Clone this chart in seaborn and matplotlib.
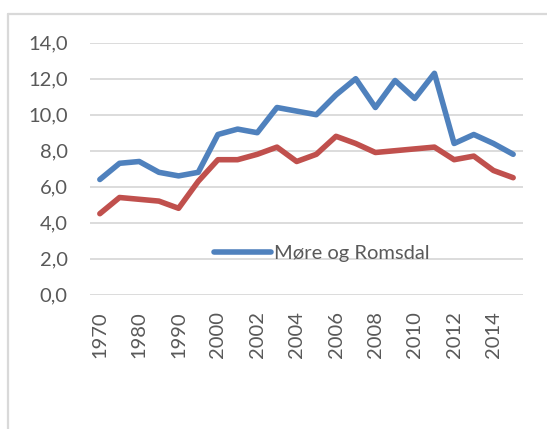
import numpy as np
import pandas as pd
import matplotlib
matplotlib.use('Agg')
import matplotlib.pyplot as plt
from matplotlib.ticker import FuncFormatter, MultipleLocator
from matplotlib.lines import Line2D
import seaborn as sns

# data
years = ['1970', '1975', '1980', '1985', '1990', '1995', '2000', '2001', '2002', '2003', '2004',
         '2005', '2006', '2007', '2008', '2009', '2010', '2011', '2012', '2013', '2014', '2015']
more_romsdal = [6.4, 7.3, 7.4, 6.8, 6.6, 6.8, 8.9, 9.2, 9.0, 10.4, 10.2,
                10.0, 11.1, 12.0, 10.4, 11.9, 10.9, 12.3, 8.4, 8.9, 8.4, 7.8]
norge = [4.5, 5.4, 5.3, 5.2, 4.8, 6.3, 7.5, 7.5, 7.8, 8.2, 7.4,
         7.8, 8.8, 8.4, 7.9, 8.0, 8.1, 8.2, 7.5, 7.7, 6.9, 6.5]
tick_years = years[::2]

blue = '#4F81BD'
red = '#C0504D'
text_col = '#595959'

sns.set_style('white')
plt.rcParams['font.family'] = ['Lato', 'DejaVu Sans']

fig = plt.figure(figsize=(5.47, 4.29), dpi=100)
ax = fig.add_axes([90 / 547, 1 - 294.7 / 429, 433 / 547, 252 / 429])

# outer chart frame (left and top edges visible)
fig.add_artist(Line2D([8 / 547, 8 / 547], [0, 1 - 14 / 429], transform=fig.transFigure,
                      color='#D9D9D9', linewidth=1.6))
fig.add_artist(Line2D([8 / 547, 1], [1 - 14 / 429, 1 - 14 / 429], transform=fig.transFigure,
                      color='#D9D9D9', linewidth=1.6))

df = pd.DataFrame({'year': years, 'more': more_romsdal, 'norge': norge})

sns.lineplot(data=df, x='year', y='more', ax=ax, color=blue, linewidth=4,
             label='Møre og Romsdal', sort=False)
sns.lineplot(data=df, x='year', y='norge', ax=ax, color=red, linewidth=4,
             legend=False, sort=False)
for ln in ax.get_lines():
    ln.set_solid_capstyle('round')
    ln.set_solid_joinstyle('round')

ax.set_ylim(0, 14)
ax.set_xlim(-0.5, len(years) - 0.5)
ax.yaxis.set_major_locator(MultipleLocator(2))
ax.yaxis.set_major_formatter(FuncFormatter(lambda v, p: f'{v:.1f}'.replace('.', ',')))
ax.set_xticks(range(0, len(years), 2))
ax.set_xticklabels(tick_years, rotation=90)
ax.grid(axis='y', color='#D9D9D9', linewidth=1.3)
ax.set_axisbelow(True)
for s in ax.spines.values():
    s.set_visible(False)
ax.tick_params(axis='y', length=0, pad=16, labelsize=14.5, labelcolor=text_col)
ax.tick_params(axis='x', length=0, pad=12, labelsize=14.5, labelcolor=text_col)
ax.set_xlabel('')
ax.set_ylabel('')

handles = [ax.get_lines()[0]]
ax.legend(handles=handles, labels=['Møre og Romsdal'], loc='center',
          bbox_to_anchor=(0.535, 0.165), frameon=False, fontsize=14.5,
          labelcolor=text_col, handlelength=2.8, handletextpad=0.15)

fig.savefig('out.png', dpi=100, facecolor='white')
